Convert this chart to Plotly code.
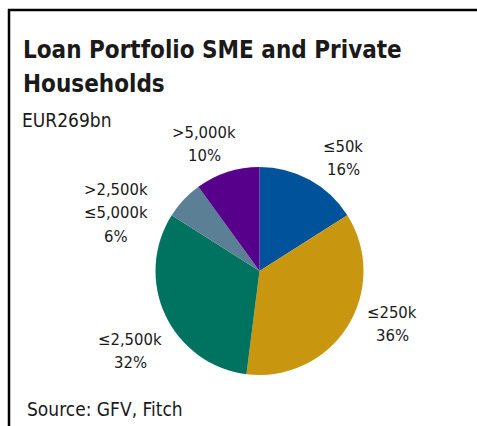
import plotly.graph_objects as go

# Loan book split by exposure size bucket (share of EUR269bn)
buckets = ["≤50k", "≤250k", "≤2,500k", ">2,500k\n≤5,000k", ">5,000k"]
shares = [16, 36, 32, 6, 10]
colors = ["#00529B", "#C8960F", "#007360", "#5B7F95", "#56008C"]

title_lines = ["Loan Portfolio SME and Private", "Households"]
subtitle = "EUR269bn"
source = "Source: GFV, Fitch"

W, H = 477, 426
FONT = "DejaVu Sans Condensed"
TXT = "#1a1a1a"

# label anchor (pixel centre of first line) for each bucket's callout
label_anchor = [(343, 146), (392, 312), (130, 339), (116, 189), (204, 132)]
LINE_STEP = 23.5


def px(x, y):
    return x / W, 1 - y / H


fig = go.Figure(
    go.Pie(
        labels=[b.replace("\n", " ") for b in buckets],
        values=shares,
        marker=dict(colors=colors, line=dict(width=0)),
        sort=False,
        direction="clockwise",
        rotation=0,
        textinfo="none",
        hoverinfo="label+percent",
        domain=dict(x=[(259.5 - 104) / W, (259.5 + 104) / W],
                    y=[1 - 375 / H, 1 - 167 / H]),
        showlegend=False,
    )
)

annotations = []
for name, val, (ax, ay) in zip(buckets, shares, label_anchor):
    lines = name.split("\n") + [f"{val}%"]
    for i, line in enumerate(lines):
        x, y = px(ax, ay + i * LINE_STEP)
        annotations.append(dict(
            text=line, x=x, y=y, xref="paper", yref="paper",
            xanchor="center", yanchor="middle", showarrow=False,
            font=dict(family=FONT, size=16.5, color=TXT),
        ))

for i, line in enumerate(title_lines):
    x, y = px(21, 50 + i * 34)
    annotations.append(dict(
        text=f"<b>{line}</b>", x=x, y=y, xref="paper", yref="paper",
        xanchor="left", yanchor="middle", showarrow=False,
        font=dict(family=FONT, size=24, color=TXT),
    ))

x, y = px(20, 120)
annotations.append(dict(
    text=subtitle, x=x, y=y, xref="paper", yref="paper",
    xanchor="left", yanchor="middle", showarrow=False,
    font=dict(family=FONT, size=19, color=TXT),
))

x, y = px(25, 409)
annotations.append(dict(
    text=source, x=x, y=y, xref="paper", yref="paper",
    xanchor="left", yanchor="middle", showarrow=False,
    font=dict(family=FONT, size=19, color=TXT),
))

# frame: top rule and left rule
shapes = [
    dict(type="line", xref="paper", yref="paper",
         x0=8 / W, y0=1 - 10 / H, x1=1, y1=1 - 10 / H,
         line=dict(color="black", width=2.5)),
    dict(type="line", xref="paper", yref="paper",
         x0=9 / W, y0=1 - 9 / H, x1=9 / W, y1=0,
         line=dict(color="black", width=2.5)),
]

fig.update_layout(
    width=W, height=H,
    margin=dict(l=0, r=0, t=0, b=0),
    paper_bgcolor="white", plot_bgcolor="white",
    annotations=annotations, shapes=shapes,
)

fig.write_html("out.html")
